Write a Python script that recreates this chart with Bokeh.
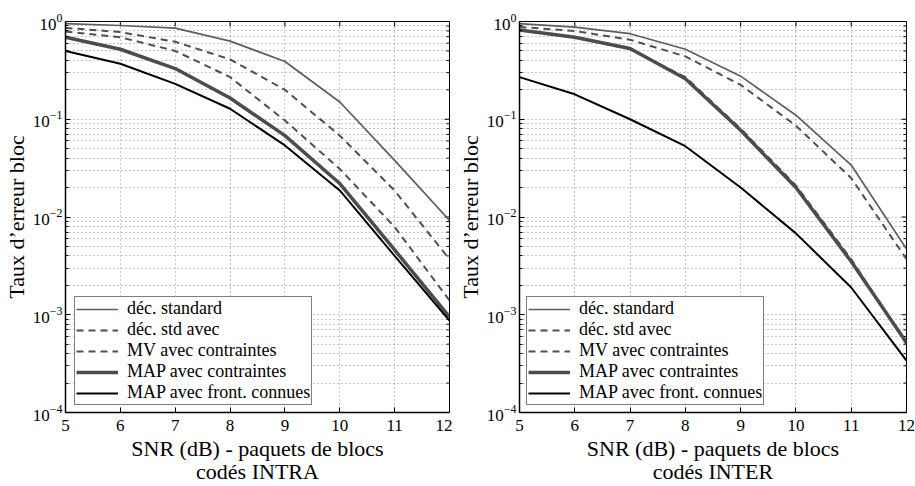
import math
from bokeh.plotting import figure
from bokeh.layouts import row
from bokeh.models import FixedTicker, Legend, LegendItem, Range1d
from bokeh.embed import file_html
from bokeh.resources import INLINE

snr = [5, 6, 7, 8, 9, 10, 11, 12]

labels = ["déc. standard", "déc. std avec", "MV avec contraintes",
          "MAP avec contraintes", "MAP avec front. connues"]

# INTRA
intra_std = [0.95, 0.91, 0.855, 0.63, 0.39, 0.15, 0.038, 0.0092]
intra_std_avec = [0.86, 0.78, 0.62, 0.41, 0.20, 0.068, 0.0186, 0.0037]
intra_mv = [0.79, 0.69, 0.50, 0.27, 0.097, 0.031, 0.0079, 0.0014]
intra_map_c = [0.69, 0.52, 0.33, 0.165, 0.068, 0.022, 0.0046, 0.00095]
intra_map_f = [0.50, 0.37, 0.23, 0.128, 0.054, 0.0187, 0.0040, 0.00087]

# INTER
inter_std = [0.95, 0.875, 0.75, 0.52, 0.276, 0.11, 0.034, 0.0047]
inter_std_avec = [0.88, 0.80, 0.65, 0.44, 0.225, 0.086, 0.025, 0.0037]
inter_mv = [0.81, 0.69, 0.52, 0.27, 0.080, 0.021, 0.0037, 0.00050]
inter_map_c = [0.82, 0.69, 0.53, 0.26, 0.077, 0.020, 0.0035, 0.00052]
inter_map_f = [0.27, 0.18, 0.10, 0.053, 0.020, 0.0068, 0.0019, 0.00034]

y_major = [1e-4, 1e-3, 1e-2, 1e-1, 1]
y_minor = [m * 10.0 ** k for k in range(-4, 0) for m in range(2, 10)]

styles = [
    dict(line_color="#5e5e5e", line_width=1.7),
    dict(line_color="#505050", line_width=2, line_dash="7 5"),
    dict(line_color="#505050", line_width=2, line_dash="7 5"),
    dict(line_color="#4c4c4c", line_width=3.5),
    dict(line_color="#000000", line_width=2),
]

SERIF = "Liberation Serif"


def make(series, xlabel, width, left, right, leg_x):
    p = figure(width=width, height=486, y_axis_type="log",
               x_range=Range1d(5, 12), y_range=Range1d(1e-4, 1),
               output_backend="svg", toolbar_location=None,
               min_border_left=left, min_border_right=right,
               min_border_top=21, min_border_bottom=73)
    p.background_fill_color = "white"
    p.border_fill_color = "white"
    p.outline_line_color = "black"
    p.outline_line_width = 1

    # grids
    for g in (p.xgrid[0], p.ygrid[0]):
        g.grid_line_color = "#8c8c8c"
        g.grid_line_dash = "1 3"
        g.grid_line_width = 1
    p.ygrid[0].minor_grid_line_color = "#8c8c8c"
    p.ygrid[0].minor_grid_line_dash = "1 3"
    p.ygrid[0].ticker = FixedTicker(ticks=y_major, minor_ticks=y_minor)
    p.xgrid[0].ticker = FixedTicker(ticks=snr, minor_ticks=[])

    # inner ticks on the right and top edges
    p.ray(x=[12] * len(y_major), y=y_major, length=5, length_units="screen",
          angle=math.pi, line_color="black", line_width=1)
    p.ray(x=[12] * len(y_minor), y=y_minor, length=3, length_units="screen",
          angle=math.pi, line_color="black", line_width=1)
    p.ray(x=snr, y=[1] * len(snr), length=5, length_units="screen",
          angle=-math.pi / 2, line_color="black", line_width=1)

    items = []
    for ys, lab, st in zip(series, labels, styles):
        r = p.line(snr, ys, **st)
        items.append(LegendItem(label=lab, renderers=[r]))

    # axes
    xa = p.xaxis[0]
    xa.ticker = FixedTicker(ticks=snr, minor_ticks=[])
    ya = p.yaxis[0]
    ya.ticker = FixedTicker(ticks=y_major, minor_ticks=y_minor)
    for ax in (xa, ya):
        ax.major_tick_in = 5
        ax.major_tick_out = 0
        ax.minor_tick_in = 3
        ax.minor_tick_out = 0
        ax.axis_line_color = "black"
        ax.axis_line_width = 1.5
        ax.major_tick_line_color = "black"
        ax.minor_tick_line_color = "black"
        ax.major_label_text_font = SERIF
        ax.major_label_text_font_size = "17px"
        ax.major_label_text_color = "black"
        ax.axis_label_text_font = SERIF
        ax.axis_label_text_font_size = "22px"
        ax.axis_label_text_font_style = "normal"
        ax.axis_label_text_color = "black"
        ax.axis_label_text_line_height = 0.92
    xa.major_label_standoff = 7
    xa.axis_label = xlabel
    xa.axis_label_standoff = 2
    ya.major_label_standoff = 3
    ya.axis_label = "Taux d’erreur bloc"
    ya.axis_label_standoff = 1

    leg = Legend(items=items, location=(leg_x, 7))
    leg.label_text_font = SERIF
    leg.label_text_font_size = "18px"
    leg.label_text_color = "black"
    leg.label_height = 20
    leg.glyph_height = 20
    leg.glyph_width = 42
    leg.label_standoff = 9
    leg.spacing = 0
    leg.padding = 1
    leg.margin = 0
    leg.border_line_color = "black"
    leg.border_line_width = 1.5
    leg.background_fill_color = "white"
    leg.background_fill_alpha = 1
    p.add_layout(leg, "center")
    return p


p1 = make([intra_std, intra_std_avec, intra_mv, intra_map_c, intra_map_f],
          "SNR (dB) - paquets de blocs\ncodés INTRA", 452, 63, 3, 9)
p2 = make([inter_std, inter_std_avec, inter_mv, inter_map_c, inter_map_f],
          "SNR (dB) - paquets de blocs\ncodés INTER", 463, 67, 9, 7)

layout = row(p1, p2)
open("out.html", "w").write(file_html(layout, INLINE))
